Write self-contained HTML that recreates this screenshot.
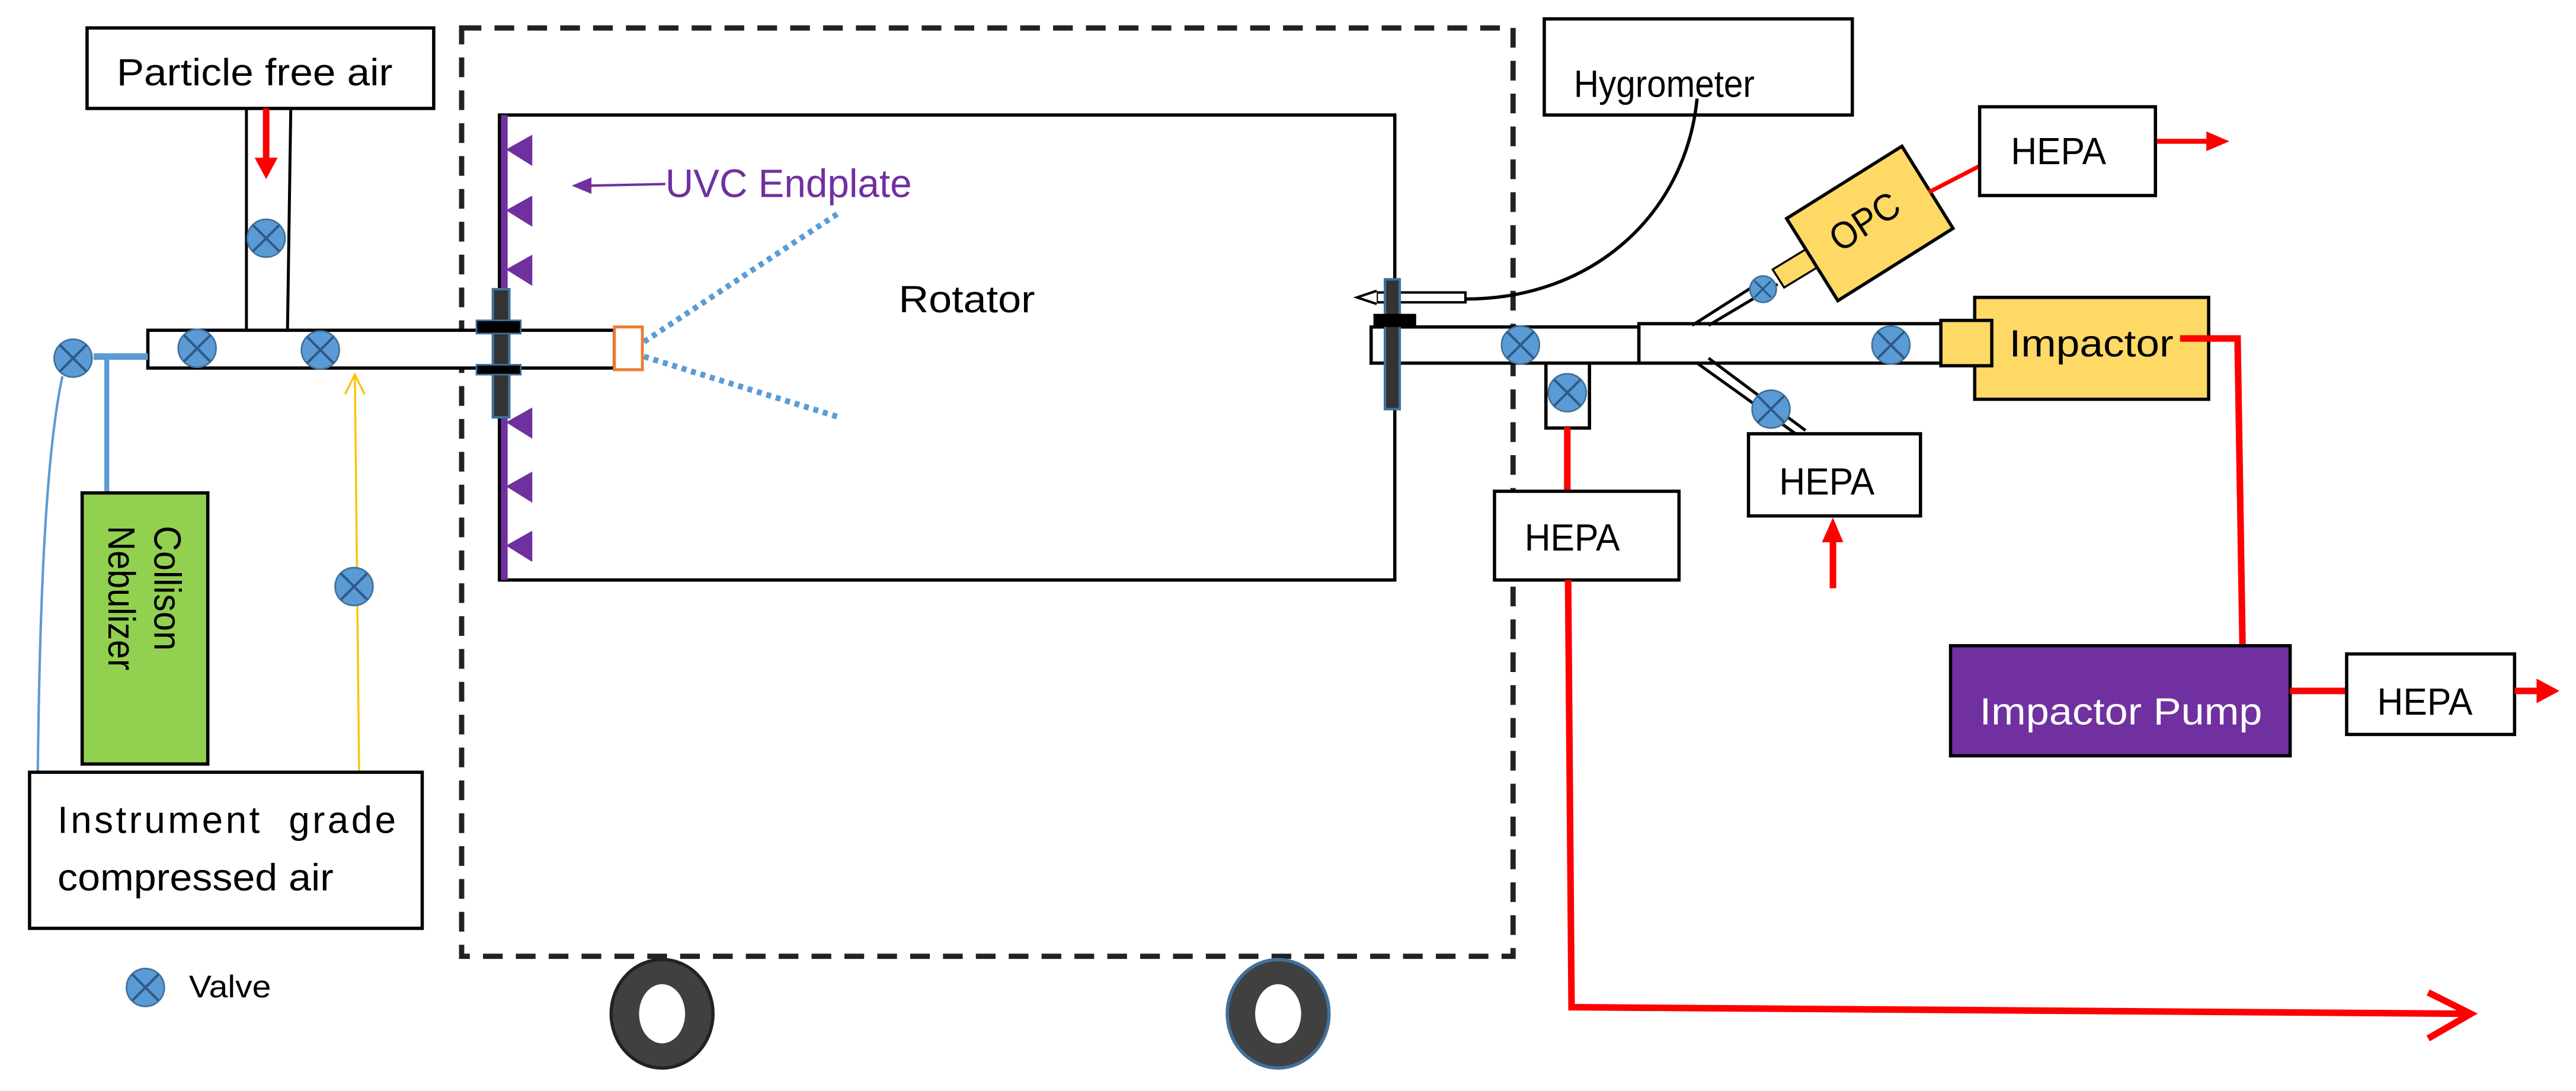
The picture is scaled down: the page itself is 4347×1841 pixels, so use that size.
<!DOCTYPE html>
<html><head><meta charset="utf-8"><style>html,body{margin:0;padding:0;background:#fff}svg{display:block}text{font-family:"Liberation Sans",sans-serif;font-size:23px;fill:#000}</style></head><body>
<svg width="4347" height="1841" viewBox="0 0 1568 664" preserveAspectRatio="none" xmlns="http://www.w3.org/2000/svg">
<defs>
<g id="v"><circle r="11.5" fill="#5b9bd5" stroke="#41719c" stroke-width="1"/><path d="M-8,-8L8,8M-8,8L8,-8" stroke="#2e5a88" stroke-width="1.5"/></g>
</defs>
<rect x="281" y="17" width="640" height="565" fill="none" stroke="#222" stroke-width="3.2" stroke-dasharray="12,8"/>
<rect x="304" y="70" width="545" height="283" fill="#fff" stroke="#000" stroke-width="2"/>
<line x1="307" y1="70" x2="307" y2="353" stroke="#7030a0" stroke-width="4"/>
<g fill="#7030a0">
<polygon points="308,91 324,82 324,101"/><polygon points="308,128 324,119 324,138"/><polygon points="308,164 324,155 324,174"/>
<polygon points="308,257 324,248 324,267"/><polygon points="308,296 324,287 324,306"/><polygon points="308,332 324,323 324,342"/>
</g>
<line x1="405" y1="112" x2="358" y2="113" stroke="#7030a0" stroke-width="1.5"/>
<polygon points="348,113 360,108 360,118" fill="#7030a0"/>
<text x="405" y="120" style="font-size:24px;fill:#7030a0" textLength="150" lengthAdjust="spacingAndGlyphs">UVC Endplate</text>
<text x="547" y="190" textLength="83" lengthAdjust="spacingAndGlyphs">Rotator</text>
<line x1="392" y1="208" x2="510" y2="130" stroke="#5b9bd5" stroke-width="3.5" stroke-dasharray="3,3"/>
<line x1="392" y1="217" x2="511" y2="254" stroke="#5b9bd5" stroke-width="3.5" stroke-dasharray="3,3"/>
<rect x="53" y="17" width="211" height="49" fill="#fff" stroke="#000" stroke-width="2"/>
<text x="71" y="52" textLength="168" lengthAdjust="spacingAndGlyphs">Particle free air</text>
<line x1="150" y1="66" x2="150" y2="201" stroke="#000" stroke-width="1.8"/>
<line x1="177" y1="66" x2="175" y2="201" stroke="#000" stroke-width="1.8"/>
<line x1="162" y1="66" x2="162" y2="98" stroke="#f00" stroke-width="4"/>
<polygon points="155,96 169,96 162,109" fill="#f00"/>
<use href="#v" x="162" y="145"/>
<rect x="90" y="201" width="284" height="23" fill="#fff" stroke="#000" stroke-width="2"/>
<use href="#v" x="120" y="212"/><use href="#v" x="195" y="213"/>
<rect x="374" y="199" width="17" height="26" fill="#fff" stroke="#ed7d31" stroke-width="1.8"/>
<rect x="300" y="176" width="10" height="78" fill="#333" stroke="#41719c" stroke-width="1.5"/>
<rect x="290" y="195" width="27" height="8" fill="#000" stroke="#41719c" stroke-width="1"/>
<rect x="290" y="222" width="27" height="6" fill="#000" stroke="#41719c" stroke-width="1"/>
<line x1="57" y1="217" x2="90" y2="217" stroke="#5b9bd5" stroke-width="4"/>
<line x1="65" y1="217" x2="65" y2="300" stroke="#5b9bd5" stroke-width="3"/>
<use href="#v" x="44.5" y="218"/>
<path d="M38,229 C27,280 24,380 23,470" fill="none" stroke="#5b9bd5" stroke-width="1.5"/>
<rect x="50" y="300" width="76.5" height="165" fill="#92d050" stroke="#000" stroke-width="2"/>
<text transform="translate(94,320) rotate(90)" textLength="76" lengthAdjust="spacingAndGlyphs">Collison</text>
<text transform="translate(66,320) rotate(90)" textLength="88" lengthAdjust="spacingAndGlyphs">Nebulizer</text>
<line x1="218.6" y1="470" x2="216" y2="228" stroke="#ffc000" stroke-width="1.2"/>
<path d="M210,240 L216,228 L222,240" fill="none" stroke="#ffc000" stroke-width="1.2"/>
<use href="#v" x="215.5" y="357"/>
<rect x="18" y="470" width="239" height="95" fill="#fff" stroke="#000" stroke-width="2"/>
<text x="35" y="507" textLength="206" lengthAdjust="spacing">Instrument&#160;&#160;grade</text>
<text x="35" y="542" textLength="168" lengthAdjust="spacingAndGlyphs">compressed air</text>
<use href="#v" x="88.5" y="601"/>
<text x="115" y="607" style="font-size:19px" textLength="50" lengthAdjust="spacingAndGlyphs">Valve</text>
<ellipse cx="403" cy="617" rx="31" ry="33" fill="#404040" stroke="#222" stroke-width="2"/>
<ellipse cx="403" cy="617" rx="14" ry="18" fill="#fff"/>
<ellipse cx="778" cy="617" rx="31" ry="33" fill="#404040" stroke="#41719c" stroke-width="2"/>
<ellipse cx="778" cy="617" rx="14" ry="18" fill="#fff"/>
<rect x="940" y="11.5" width="187.5" height="58.5" fill="#fff" stroke="#000" stroke-width="2"/>
<text x="958" y="59" textLength="110" lengthAdjust="spacingAndGlyphs">Hygrometer</text>
<path d="M1033,60 C1026,130 970,182 892,182" fill="none" stroke="#000" stroke-width="2"/>
<rect x="838" y="178" width="54" height="6" fill="#fff" stroke="#000" stroke-width="1.5"/>
<path d="M838,177 L826,181 L838,185" fill="#fff" stroke="#000" stroke-width="1.5"/>
<rect x="834.6" y="199" width="163" height="22" fill="#fff" stroke="#000" stroke-width="2"/>
<rect x="997.6" y="197" width="184.4" height="24" fill="#fff" stroke="#000" stroke-width="2"/>
<rect x="843" y="170" width="9" height="79" fill="#333" stroke="#41719c" stroke-width="1.5"/>
<rect x="836" y="191" width="26" height="8" fill="#000"/>
<use href="#v" x="925.5" y="210"/><use href="#v" x="1151" y="210"/>
<rect x="941" y="221" width="26.5" height="39.5" fill="#fff" stroke="#000" stroke-width="2"/>
<use href="#v" x="954" y="239"/>
<line x1="954" y1="260" x2="954" y2="299" stroke="#f00" stroke-width="4"/>
<rect x="909.7" y="299" width="112.3" height="54" fill="#fff" stroke="#000" stroke-width="2"/>
<text x="928" y="335" textLength="58" lengthAdjust="spacingAndGlyphs">HEPA</text>
<path d="M954.5,353 L956.6,613 L1504,617" fill="none" stroke="#f00" stroke-width="4"/>
<path d="M1478,604 L1504,617 L1478,632" fill="none" stroke="#f00" stroke-width="4"/>
<line x1="1033" y1="221" x2="1093" y2="264" stroke="#000" stroke-width="1.8"/>
<line x1="1040" y1="218" x2="1099" y2="262" stroke="#000" stroke-width="1.8"/>
<use href="#v" x="1078" y="249"/>
<rect x="1064.3" y="264" width="104.7" height="50" fill="#fff" stroke="#000" stroke-width="2"/>
<text x="1083" y="301" textLength="58" lengthAdjust="spacingAndGlyphs">HEPA</text>
<line x1="1115.7" y1="358" x2="1115.7" y2="326" stroke="#f00" stroke-width="4"/>
<polygon points="1109,330 1122,330 1115.7,315" fill="#f00"/>
<line x1="1030" y1="198" x2="1074" y2="170" stroke="#000" stroke-width="1.8"/>
<line x1="1040" y1="198" x2="1082" y2="173" stroke="#000" stroke-width="1.8"/>
<polygon points="1079,164 1102,150 1109,161 1086,175" fill="#ffd966" stroke="#000" stroke-width="1.2"/>
<circle cx="1073.2" cy="176" r="8" fill="#5b9bd5" stroke="#41719c"/>
<path d="M1068,171L1078,181M1068,181L1078,171" stroke="#2e5a88" stroke-width="1.2"/>
<polygon points="1087.5,133 1157.7,89 1188.8,139 1118.7,183" fill="#ffd966" stroke="#000" stroke-width="2"/>
<text transform="translate(1120,154) rotate(-33)" textLength="46" lengthAdjust="spacingAndGlyphs">OPC</text>
<line x1="1174" y1="117" x2="1205" y2="101" stroke="#f00" stroke-width="2.5"/>
<rect x="1205" y="65" width="107" height="54" fill="#fff" stroke="#000" stroke-width="2"/>
<text x="1224" y="100" textLength="58" lengthAdjust="spacingAndGlyphs">HEPA</text>
<line x1="1313" y1="86" x2="1345" y2="86" stroke="#f00" stroke-width="3"/>
<polygon points="1343,80 1357,86 1343,92" fill="#f00"/>
<rect x="1202" y="181" width="142.4" height="62" fill="#ffd966" stroke="#000" stroke-width="2"/>
<rect x="1181.4" y="195" width="31" height="27.6" fill="#ffd966" stroke="#000" stroke-width="2"/>
<text x="1223" y="217" textLength="100" lengthAdjust="spacingAndGlyphs">Impactor</text>
<path d="M1327,206 L1362,206 L1365,392" fill="none" stroke="#f00" stroke-width="4"/>
<rect x="1187.3" y="393" width="206.7" height="67" fill="#7030a0" stroke="#000" stroke-width="2"/>
<text x="1205" y="441" style="fill:#fff" textLength="172" lengthAdjust="spacingAndGlyphs">Impactor Pump</text>
<line x1="1394" y1="420.5" x2="1428.4" y2="420.5" stroke="#f00" stroke-width="4"/>
<rect x="1428.4" y="398" width="102.2" height="49" fill="#fff" stroke="#000" stroke-width="2"/>
<text x="1447" y="435" textLength="58" lengthAdjust="spacingAndGlyphs">HEPA</text>
<line x1="1530.6" y1="420.5" x2="1546" y2="420.5" stroke="#f00" stroke-width="4"/>
<polygon points="1544,413 1558,420.5 1544,428" fill="#f00"/>
</svg>
</body></html>
